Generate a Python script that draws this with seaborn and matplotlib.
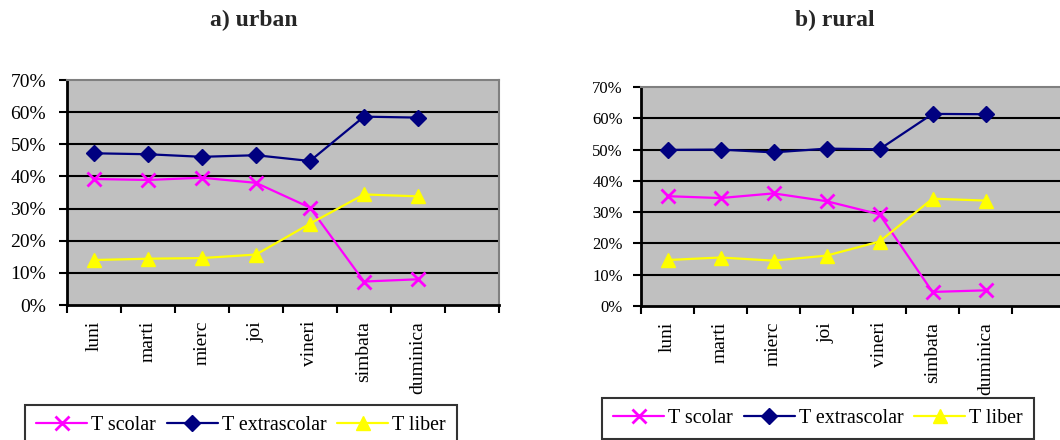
import numpy as np
import pandas as pd
import matplotlib
matplotlib.use("Agg")
import matplotlib.pyplot as plt
from matplotlib.ticker import PercentFormatter, FixedLocator
from matplotlib.lines import Line2D
import seaborn as sns

days = ["luni", "marti", "mierc", "joi", "vineri", "simbata", "duminica"]
series_names = ["T scolar", "T extrascolar", "T liber"]
titles = ["a) urban", "b) rural"]

urban_scolar = [39.2, 38.9, 39.6, 38.0, 30.3, 7.3, 8.0]
urban_extrascolar = [47.2, 46.9, 46.1, 46.6, 44.8, 58.6, 58.3]
urban_liber = [14.0, 14.4, 14.6, 15.7, 25.3, 34.4, 33.8]

rural_scolar = [35.1, 34.5, 36.0, 33.5, 29.3, 4.5, 5.0]
rural_extrascolar = [49.9, 50.0, 49.1, 50.3, 50.1, 61.4, 61.3]
rural_liber = [14.7, 15.5, 14.5, 16.1, 20.6, 34.3, 33.7]

sns.set_theme(style="white")
plt.rcParams['font.family'] = ['Liberation Serif', 'DejaVu Serif']

colors = ["#FF00FF", "#000080", "#FFFF00"]
markers = ["x", "D", "^"]
msizes = [10, 8, 10]

fig = plt.figure(figsize=(10.6, 4.4), dpi=100)
ax1 = fig.add_axes([67/1060, 1-305/440, 432/1060, 225/440])
ax2 = fig.add_axes([641/1060, 1-306/440, 424/1060, 219/440])

panels = [
    (ax1, [urban_scolar, urban_extrascolar, urban_liber], 14, 9, titles[0], (25/1060, 1-405/440)),
    (ax2, [rural_scolar, rural_extrascolar, rural_liber], 12, 7, titles[1], (602/1060, 1-398/440)),
]

ncat = len(days) + 1
for ax, data, yfs, ypad, title, legpos in panels:
    ax.set_facecolor("#C0C0C0")
    x = np.arange(len(days)) + 0.5
    for vals, name, c, m, ms in zip(data, series_names, colors, markers, msizes):
        df = pd.DataFrame({"x": x, "y": vals})
        sns.lineplot(data=df, x="x", y="y", ax=ax, color=c, marker=m,
                     markersize=ms, linewidth=1.6, markeredgecolor=c,
                     markeredgewidth=2 if m == "x" else 1, zorder=3)
    ax.set_xlim(0, ncat)
    ax.set_ylim(0, 70)
    ax.set_yticks(np.arange(0, 71, 10))
    ax.yaxis.set_major_formatter(PercentFormatter(decimals=0))
    ax.set_xticks(x)
    ax.set_xticklabels(days, rotation=90, fontsize=14)
    ax.xaxis.set_minor_locator(FixedLocator(np.arange(0, ncat + 1)))
    ax.tick_params(axis="x", which="major", length=0, pad=11.5)
    ax.tick_params(axis="x", which="minor", length=6, width=1.5, direction="out", color="black", bottom=True)
    ax.tick_params(axis="y", which="major", length=6, width=1.5, direction="out", color="black",
                   labelsize=yfs, left=True, pad=ypad)
    ax.set_xlabel("")
    ax.set_ylabel("")
    for yv in range(10, 70, 10):
        ax.axhline(yv, color="black", linewidth=1.5, zorder=1)
    for s in ["left", "bottom"]:
        ax.spines[s].set_color("black")
        ax.spines[s].set_linewidth(2)
    for s in ["top", "right"]:
        ax.spines[s].set_color("#808080")
        ax.spines[s].set_linewidth(1.5)
    for lbl in ax.get_xticklabels() + ax.get_yticklabels():
        lbl.set_color("black")
    handles = [Line2D([0], [0], color=c, marker=m, markersize=ms, linewidth=1.6,
                      markeredgecolor=c, markeredgewidth=2 if m == "x" else 1)
               for c, m, ms in zip(colors, markers, msizes)]
    leg = fig.legend(handles, series_names, loc="upper left", bbox_to_anchor=legpos,
                     ncol=3, fontsize=14.4, frameon=True, fancybox=False,
                     handlelength=2.55, handletextpad=0.2, columnspacing=0.55,
                     borderpad=0.55, borderaxespad=0)
    leg.get_frame().set_edgecolor("black")
    leg.get_frame().set_linewidth(1.5)
    for t in leg.get_texts():
        t.set_color("black")

fig.text(254/1060, 1-20/440, titles[0], ha="center", va="center", fontsize=17, fontweight="bold")
fig.text(835/1060, 1-20/440, titles[1], ha="center", va="center", fontsize=17, fontweight="bold")

fig.savefig("out.png", dpi=100)
